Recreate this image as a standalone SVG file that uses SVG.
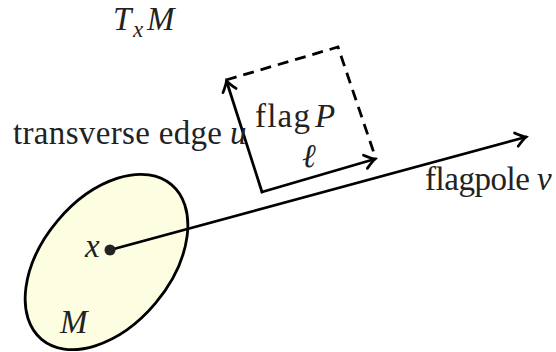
<svg xmlns="http://www.w3.org/2000/svg" width="556" height="352" viewBox="0 0 556 352">
  <style>
    .t { font-family: "Liberation Serif", "DejaVu Serif", serif; fill: #222; font-size: 33px; }
    .i { font-style: italic; }
    .ln { stroke: #000; stroke-width: 2.8; fill: none; stroke-linecap: round; }
    .dash { stroke: #000; stroke-width: 2.8; fill: none; stroke-dasharray: 11 7; }
  </style>
  <defs>
    <marker id="arr" markerUnits="userSpaceOnUse" markerWidth="20" markerHeight="20" viewBox="-12 -8 16 16" refX="0" refY="0" orient="auto">
      <path d="M -8 -5.5 Q -3 -1.5 0 0 Q -3 1.5 -8 5.5" fill="none" stroke="#000" stroke-width="2.2" stroke-linecap="round"/>
    </marker>
  </defs>
  <rect width="556" height="352" fill="#fff"/>

  <g id="manifold">
    <ellipse cx="106.5" cy="262" rx="101" ry="64" transform="rotate(-50 106.5 262)" fill="#fdfde1" stroke="#000" stroke-width="2.8"/>
    <text class="t i" x="60" y="333" textLength="29">M</text>
  </g>

  <g id="tangent-label">
    <text class="t i" x="113" y="30" textLength="20">T</text>
    <text class="t i" x="133" y="37" style="font-size:23px" textLength="12">x</text>
    <text class="t i" x="147" y="30" textLength="31">M</text>
  </g>

  <g id="connectors">
    <line class="ln" x1="110" y1="250" x2="526" y2="137" marker-end="url(#arr)"/>
    <line class="ln" x1="262" y1="192" x2="226.5" y2="81" marker-end="url(#arr)"/>
    <line class="ln" x1="262" y1="192" x2="375" y2="159" marker-end="url(#arr)"/>
    <polyline class="dash" points="226,80 338,47 376,159"/>
  </g>

  <g id="point-x">
    <circle cx="110" cy="250" r="5.5" fill="#222"/>
    <text class="t i" x="85" y="257" textLength="15">x</text>
  </g>

  <g id="flag">
    <text class="t" x="255" y="127" textLength="55">flag</text>
    <text class="t i" x="315" y="127" textLength="22">P</text>
    <text class="t i" x="302" y="167">ℓ</text>
  </g>

  <g id="transverse-label">
    <text class="t" x="13" y="144" textLength="209">transverse edge</text>
    <text class="t i" x="230" y="144" textLength="18">u</text>
  </g>

  <g id="flagpole-label">
    <text class="t" x="425" y="190" textLength="105">flagpole</text>
    <text class="t i" x="537" y="190" textLength="15">v</text>
  </g>
</svg>
